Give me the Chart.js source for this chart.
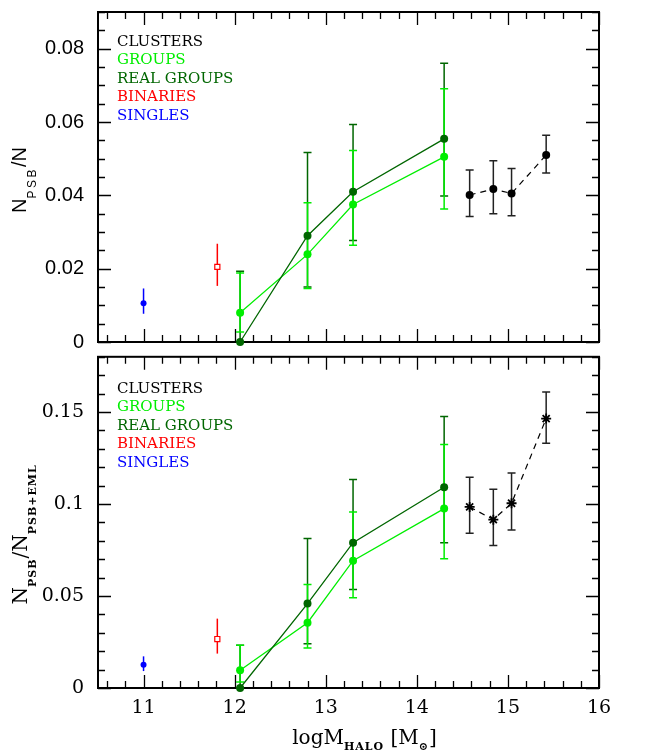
<!DOCTYPE html>
<html>
<head>
<meta charset="utf-8">
<script src="https://cdn.jsdelivr.net/npm/chart.js@4.4.1/dist/chart.umd.min.js"></script>
<style>
  html, body { margin: 0; padding: 0; background: #fff; }
  #wrap { position: relative; width: 646px; height: 756px; }
  canvas { position: absolute; left: 0; }
  #topChart { top: 0; }
  #botChart { top: 350px; }
</style>
</head>
<body>
<div id="wrap">
  <canvas id="topChart" width="646" height="350"></canvas>
  <canvas id="botChart" width="646" height="406"></canvas>
</div>
<script>
// x positions (log M_halo)
const xSingle = [11.00];
const xBinary = [11.81];
const xGroups = [12.06, 12.80, 13.30, 14.30];
const xClusters = [14.58, 14.84, 15.04, 15.42];

// top panel: N_PSB / N
const topSingle = [0.0106];
const topSingleLo = [0.0077];
const topSingleHi = [0.0146];
const topBinary = [0.0205];
const topBinaryLo = [0.0153];
const topBinaryHi = [0.0268];
const topGroups = [0.0080, 0.0239, 0.0375, 0.0505];
const topGroupsLo = [0.0027, 0.0146, 0.0264, 0.0363];
const topGroupsHi = [0.0188, 0.0380, 0.0522, 0.0691];
const topReal = [0.0000, 0.0290, 0.0410, 0.0554];
const topRealLo = [0.0000, 0.0150, 0.0277, 0.0398];
const topRealHi = [0.0193, 0.0517, 0.0593, 0.0760];
const topClusters = [0.0401, 0.0417, 0.0405, 0.0510];
const topClustersLo = [0.0342, 0.0350, 0.0344, 0.0461];
const topClustersHi = [0.0469, 0.0494, 0.0473, 0.0564];

// bottom panel: N_PSB / N_PSB+EML
const botSingle = [0.0127];
const botSingleLo = [0.0092];
const botSingleHi = [0.0172];
const botBinary = [0.0266];
const botBinaryLo = [0.0187];
const botBinaryHi = [0.0377];
const botGroups = [0.0096, 0.0355, 0.0692, 0.0975];
const botGroupsLo = [0.0033, 0.0217, 0.0491, 0.0703];
const botGroupsHi = [0.0232, 0.0562, 0.0957, 0.1323];
const botReal = [0.0000, 0.0459, 0.0790, 0.1091];
const botRealLo = [0.0000, 0.0241, 0.0535, 0.0790];
const botRealHi = [0.0232, 0.0812, 0.1133, 0.1475];
const botClusters = [0.0984, 0.0915, 0.1004, 0.1464];
const botClustersLo = [0.0841, 0.0774, 0.0859, 0.1330];
const botClustersHi = [0.1145, 0.1080, 0.1168, 0.1609];

// legend
const legendLabels = ['CLUSTERS', 'GROUPS', 'REAL GROUPS', 'BINARIES', 'SINGLES'];
const legendColors = ['#000000', '#00ee00', '#006600', '#ff0000', '#0000ff'];

const SERIF = '"DejaVu Serif", "Liberation Serif", serif';
const SANS = '"Liberation Sans", "DejaVu Sans", sans-serif';
const LIGHT = '#00ee00';
const DARK = '#006600';

const pts = (xs, ys) => xs.map((x, i) => ({ x: x, y: ys[i] }));

// draw text runs (main + subscripts) centred on the origin, baseline at y=0
function drawRuns(ctx, runs, st) {
  const fontOf = r => r.sub ? (st.subWeight + ' ' + st.sub + 'px ' + st.family) : (st.main + 'px ' + st.family);
  let total = 0;
  runs.forEach(r => {
    ctx.font = fontOf(r);
    ctx.letterSpacing = r.sub ? st.spacing + 'px' : '0px';
    r.w = ctx.measureText(r.t).width;
    total += r.w;
  });
  let x = -total / 2;
  runs.forEach(r => {
    ctx.font = fontOf(r);
    ctx.letterSpacing = r.sub ? st.spacing + 'px' : '0px';
    ctx.fillText(r.t, x, r.sub ? st.shift : 0);
    x += r.w;
  });
  ctx.letterSpacing = '0px';
}

// frame + inward ticks on all four sides, and error bars
const frameTicks = {
  id: 'frameTicks',
  beforeDatasetsDraw(chart, args, opts) {
    const { ctx, chartArea: a, scales: { x, y } } = chart;
    ctx.save();
    ctx.strokeStyle = '#000';
    ctx.lineWidth = 1.3;
    ctx.beginPath();
    const xs = opts.xStep, xm = opts.xMajor;
    for (let i = Math.ceil(x.min / xs); i * xs <= x.max + 1e-9; i++) {
      const v = i * xs;
      const major = Math.abs(v / xm - Math.round(v / xm)) < 1e-6;
      const len = major ? 13 : 7;
      const px = Math.round(x.getPixelForValue(v)) + 0.5;
      ctx.moveTo(px, a.bottom); ctx.lineTo(px, a.bottom - len);
      ctx.moveTo(px, a.top); ctx.lineTo(px, a.top + len);
    }
    const ys = opts.yStep, ym = opts.yMajor;
    for (let i = Math.ceil(y.min / ys); i * ys <= y.max + 1e-9; i++) {
      const v = i * ys;
      const major = Math.abs(v / ym - Math.round(v / ym)) < 1e-6;
      const len = major ? 13 : 7;
      const py = Math.round(y.getPixelForValue(v)) + 0.5;
      ctx.moveTo(a.left, py); ctx.lineTo(a.left + len, py);
      ctx.moveTo(a.right, py); ctx.lineTo(a.right - len, py);
    }
    ctx.stroke();
    ctx.lineWidth = 2;
    ctx.strokeRect(a.left, a.top, a.right - a.left, a.bottom - a.top);

    // error bars
    chart.data.datasets.forEach(ds => {
      if (!ds.errLo) return;
      ctx.strokeStyle = ds.errColor || ds.borderColor;
      ctx.lineWidth = 1.5;
      ctx.beginPath();
      ds.data.forEach((p, i) => {
        const px = x.getPixelForValue(p.x);
        const lo = y.getPixelForValue(ds.errLo[i]);
        const hi = y.getPixelForValue(ds.errHi[i]);
        ctx.moveTo(px, lo); ctx.lineTo(px, hi);
        if (ds.caps) {
          ctx.moveTo(px - 4, lo); ctx.lineTo(px + 4, lo);
          ctx.moveTo(px - 4, hi); ctx.lineTo(px + 4, hi);
        }
      });
      ctx.stroke();
    });
    ctx.restore();
  }
};

// legend text and axis titles
const panelText = {
  id: 'panelText',
  afterDraw(chart, args, opts) {
    const { ctx, chartArea: a } = chart;
    ctx.save();
    ctx.textBaseline = 'middle';
    ctx.textAlign = 'left';
    ctx.font = '15px ' + SERIF;
    legendLabels.forEach((t, i) => {
      ctx.fillStyle = legendColors[i];
      ctx.fillText(t, a.left + 19, a.top + opts.legendTop + i * 18.5);
    });
    ctx.fillStyle = '#000';
    ctx.textBaseline = 'alphabetic';
    ctx.save();
    ctx.translate(opts.yTitleX, (a.top + a.bottom) / 2 + opts.yTitleShift);
    ctx.rotate(-Math.PI / 2);
    drawRuns(ctx, opts.yTitle, opts.yTitleStyle);
    ctx.restore();
    if (opts.xTitle) {
      ctx.save();
      ctx.translate((a.left + a.right) / 2 + opts.xTitleShift, a.bottom + 56);
      drawRuns(ctx, opts.xTitle, opts.xTitleStyle);
      ctx.restore();
    }
    ctx.restore();
  }
};

const fmt = v => String(+Number(v).toFixed(3));

// keep Chart.js from reserving label overhang around the plot area
function fixWidth(w) {
  return scale => {
    scale.width = w;
    scale.paddingTop = 0; scale.paddingBottom = 0;
  };
}
function fixHeight(h) {
  return scale => {
    scale.height = h;
    scale.paddingLeft = 0; scale.paddingRight = 0;
  };
}

function makeDatasets(single, singleLo, singleHi, binary, binaryLo, binaryHi,
                      groups, groupsLo, groupsHi, real, realLo, realHi,
                      clusters, clustersLo, clustersHi, clusterStyle) {
  return [
    {
      label: 'REAL GROUPS', data: pts(xGroups, real), errLo: realLo, errHi: realHi, caps: true,
      showLine: true, borderColor: DARK, backgroundColor: DARK, borderWidth: 1.3,
      pointRadius: 4, pointBorderWidth: 0, clip: false
    },
    {
      label: 'GROUPS', data: pts(xGroups, groups), errLo: groupsLo, errHi: groupsHi, caps: true,
      showLine: true, borderColor: LIGHT, backgroundColor: LIGHT, borderWidth: 1.3,
      pointRadius: 4, pointBorderWidth: 0, clip: false
    },
    {
      label: 'CLUSTERS', data: pts(xClusters, clusters), errLo: clustersLo, errHi: clustersHi, caps: true,
      showLine: true, borderColor: '#000', backgroundColor: '#000', borderWidth: 1.2,
      borderDash: [6, 5], errColor: '#222',
      pointStyle: clusterStyle, pointRadius: clusterStyle === 'star' ? 5 : 4,
      pointBorderWidth: clusterStyle === 'star' ? 1.8 : 0, clip: false
    },
    {
      label: 'BINARIES', data: pts(xBinary, binary), errLo: binaryLo, errHi: binaryHi, caps: false,
      showLine: false, borderColor: '#ff0000', backgroundColor: '#ffffff',
      pointStyle: 'rect', pointRadius: 3.6, pointBorderWidth: 1.2
    },
    {
      label: 'SINGLES', data: pts(xSingle, single), errLo: singleLo, errHi: singleHi, caps: false,
      showLine: false, borderColor: '#0000ff', backgroundColor: '#0000ff',
      pointRadius: 3, pointBorderWidth: 0
    }
  ];
}

Chart.defaults.font.family = SERIF;
Chart.defaults.color = '#000';

new Chart(document.getElementById('topChart'), {
  type: 'scatter',
  data: {
    datasets: makeDatasets(topSingle, topSingleLo, topSingleHi, topBinary, topBinaryLo, topBinaryHi,
      topGroups, topGroupsLo, topGroupsHi, topReal, topRealLo, topRealHi,
      topClusters, topClustersLo, topClustersHi, 'circle')
  },
  options: {
    responsive: false,
    animation: false,
    events: [],
    layout: { padding: { top: 12, right: 47, bottom: 8, left: 0 } },
    scales: {
      x: { type: 'linear', min: 10.5, max: 16, display: false },
      y: {
        type: 'linear', min: 0, max: 0.09,
        grid: { display: false, drawTicks: false },
        border: { display: false },
        ticks: { stepSize: 0.02, includeBounds: false, padding: 14, font: { size: 20, family: SANS }, callback: fmt },
        afterFit: fixWidth(98)
      }
    },
    plugins: {
      legend: { display: false },
      tooltip: { enabled: false },
      frameTicks: { xStep: 0.2, xMajor: 1, yStep: 0.005, yMajor: 0.02 },
      panelText: {
        legendTop: 30, yTitleShift: 3, yTitleX: 26,
        yTitleStyle: { family: SANS, main: 20, sub: 12, subWeight: 'normal', shift: 10, spacing: 2.5 },
        yTitle: [{ t: 'N' }, { t: 'PSB', sub: true }, { t: '/N' }]
      }
    }
  },
  plugins: [frameTicks, panelText]
});

new Chart(document.getElementById('botChart'), {
  type: 'scatter',
  data: {
    datasets: makeDatasets(botSingle, botSingleLo, botSingleHi, botBinary, botBinaryLo, botBinaryHi,
      botGroups, botGroupsLo, botGroupsHi, botReal, botRealLo, botRealHi,
      botClusters, botClustersLo, botClustersHi, 'star')
  },
  options: {
    responsive: false,
    animation: false,
    events: [],
    layout: { padding: { top: 6, right: 47, bottom: 0, left: 0 } },
    scales: {
      x: {
        type: 'linear', min: 10.5, max: 16,
        grid: { display: false, drawTicks: false },
        border: { display: false },
        ticks: { stepSize: 1, includeBounds: false, padding: 9, font: { size: 19 }, maxRotation: 0, callback: fmt },
        afterFit: fixHeight(68)
      },
      y: {
        type: 'linear', min: 0, max: 0.18,
        grid: { display: false, drawTicks: false },
        border: { display: false },
        ticks: { stepSize: 0.05, includeBounds: false, padding: 14, font: { size: 19 }, callback: fmt },
        afterFit: fixWidth(98)
      }
    },
    plugins: {
      legend: { display: false },
      tooltip: { enabled: false },
      frameTicks: { xStep: 0.2, xMajor: 1, yStep: 0.01, yMajor: 0.05 },
      panelText: {
        legendTop: 32, yTitleShift: 12, yTitleX: 27,
        yTitleStyle: { family: SERIF, main: 20, sub: 11, subWeight: 'bold', shift: 9, spacing: 1 },
        yTitle: [{ t: 'N' }, { t: 'PSB', sub: true }, { t: '/N' }, { t: 'PSB+EML', sub: true }],
        xTitleShift: 16,
        xTitleStyle: { family: SERIF, main: 20, sub: 11, subWeight: 'bold', shift: 6, spacing: 1 },
        xTitle: [{ t: 'logM' }, { t: 'HALO', sub: true }, { t: ' [M' }, { t: '\u2299', sub: true }, { t: ']' }]
      }
    }
  },
  plugins: [frameTicks, panelText]
});
</script>
</body>
</html>
